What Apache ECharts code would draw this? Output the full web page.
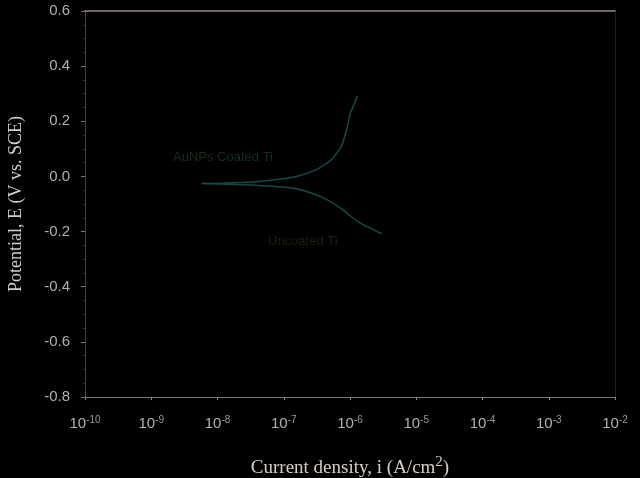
<!DOCTYPE html>
<html><head><meta charset="utf-8">
<script src="https://cdn.jsdelivr.net/npm/echarts@6/dist/echarts.min.js"></script>
<style>html,body{margin:0;padding:0;background:#000}#c{width:640px;height:478px}</style>
</head><body><div id="c"></div>
<script>
// Data: current density (A/cm^2) vs potential (V vs SCE)
const coatedI = [5.8e-9, 3.7e-8, 1.5e-7, 3.0e-7, 5.2e-7, 7.4e-7, 8.9e-7, 1.0e-6, 1.15e-6, 1.3e-6];
const coatedE = [-0.026, -0.019, -0.001, 0.023, 0.060, 0.109, 0.170, 0.225, 0.262, 0.292];
const uncoatedI = [5.8e-9, 3.7e-8, 1.5e-7, 3.7e-7, 7.4e-7, 1.35e-6, 3.0e-6];
const uncoatedE = [-0.026, -0.032, -0.044, -0.074, -0.117, -0.166, -0.208];
const xTickExponents = [-10, -9, -8, -7, -6, -5, -4, -3, -2];
const yTicks = [-0.8, -0.6, -0.4, -0.2, 0.0, 0.2, 0.4, 0.6];
const seriesNames = ['AuNPs Coated Ti', 'Uncoated Ti'];

const chart = echarts.init(document.getElementById('c'));
const pair = (xs, ys) => xs.map((x, i) => [x, ys[i]]);
chart.setOption({
  backgroundColor: '#000',
  animation: false,
  grid: { left: 85, right: 25, top: 11, bottom: 81, containLabel: false, outerBoundsMode: 'none' },
  xAxis: [{
    type: 'log', logBase: 10, min: 1e-10, max: 1e-2,
    name: 'Current density, i (A/cm{s|2})',
    nameLocation: 'middle', nameGap: 58,
    nameTextStyle: { fontFamily: 'Liberation Serif', fontSize: 19, color: '#d6cec6',
      rich: { s: { fontFamily: 'Liberation Serif', fontSize: 15, color: '#d6cec6', verticalAlign: 'top', padding: [0,0,12,0] } } },
    axisLine: { onZero: false, lineStyle: { color: '#777', width: 1 } },
    axisTick: { show: true, length: 3, lineStyle: { color: '#888' } },
    minorTick: { show: false },
    splitLine: { show: false },
    axisLabel: {
      margin: 18, color: '#b0b0b0', fontFamily: 'Liberation Sans', fontSize: 15,
      formatter: v => { const e = Math.round(Math.log10(v)); return xTickExponents.includes(e) ? '10{s|' + e + '}' : ''; },
      rich: { s: { fontSize: 10, color: '#999', fontFamily: 'Liberation Sans', padding: [0,0,8,0] } }
    }
  }, {
    type: 'log', logBase: 10, min: 1e-10, max: 1e-2, position: 'top',
    axisLine: { onZero: false, lineStyle: { color: '#9a8888', width: 1.5 } },
    axisTick: { show: false }, axisLabel: { show: false }, splitLine: { show: false }
  }],
  yAxis: [{
    type: 'value', min: -0.8, max: 0.6, interval: 0.2,
    name: 'Potential, E (V vs. SCE)', nameLocation: 'middle', nameGap: 60,
    nameTextStyle: { fontFamily: 'Liberation Serif', fontSize: 18, color: '#d6cec6' },
    axisLine: { show: true, onZero: false, lineStyle: { color: '#555', type: 'dotted', width: 1 } },
    axisTick: { show: true, length: 4, lineStyle: { color: '#777' } },
    minorTick: { show: true, splitNumber: 4, length: 2, lineStyle: { color: '#333' } },
    splitLine: { show: false },
    axisLabel: { margin: 15, color: '#b0b0b0', fontFamily: 'Liberation Sans', fontSize: 15,
      formatter: v => { const t = yTicks.find(y => Math.abs(y - v) < 1e-9); return t === undefined ? '' : t.toFixed(1); } }
  }, {
    type: 'value', min: -0.8, max: 0.6, position: 'right',
    axisLine: { show: true, onZero: false, lineStyle: { color: '#1c1c1c' } },
    axisTick: { show: false }, axisLabel: { show: false }, splitLine: { show: false }
  }],
  series: [{
    name: seriesNames[0], type: 'line', showSymbol: false, smooth: 0.2,
    lineStyle: { color: '#124a48', width: 1.5 },
    data: pair(coatedI, coatedE)
  }, {
    name: seriesNames[1], type: 'line', showSymbol: false, smooth: 0.2,
    lineStyle: { color: '#164a44', width: 1.5 },
    data: pair(uncoatedI, uncoatedE)
  }],
  graphic: [
    { type: 'text', left: 173, top: 151, style: { text: seriesNames[0], fill: '#12301f', font: '13px "Liberation Sans"' } },
    { type: 'text', left: 268, top: 235, style: { text: seriesNames[1], fill: '#1e1e12', font: '13px "Liberation Sans"' } }
  ]
});
</script></body></html>
